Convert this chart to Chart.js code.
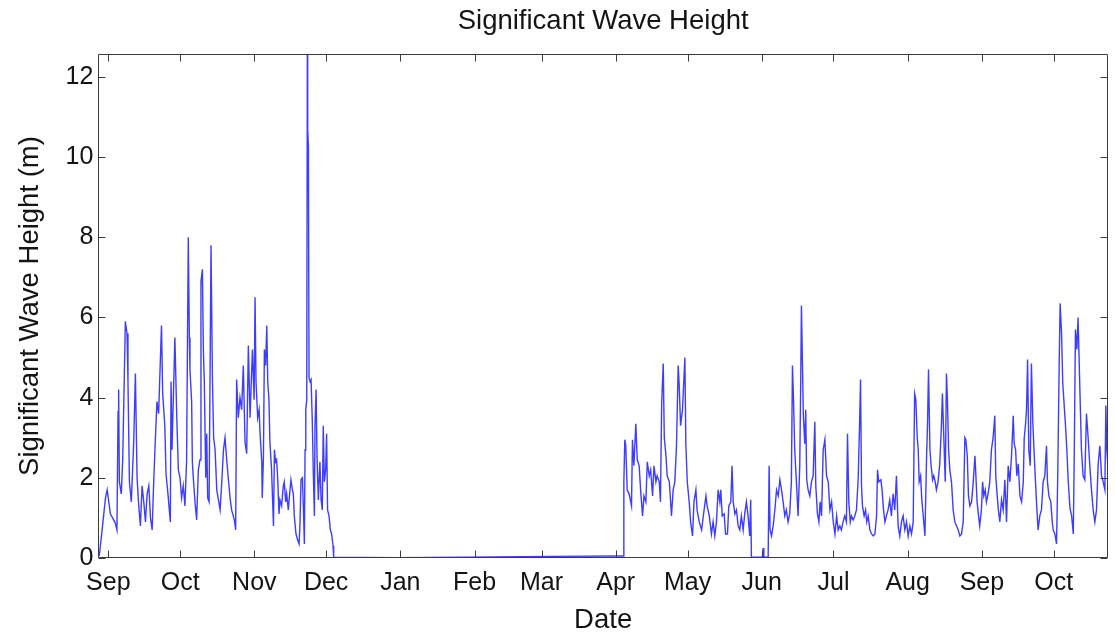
<!DOCTYPE html>
<html>
<head>
<meta charset="utf-8">
<title>Significant Wave Height</title>
<script src="https://cdn.jsdelivr.net/npm/chart.js@4.4.1/dist/chart.umd.min.js"></script>
<style>
  html, body { margin: 0; padding: 0; background: #fff; }
</style>
</head>
<body>
<canvas id="hsChart" width="1115" height="632"></canvas>
<script>
// x values are days counted from 1 September of the first year
const monthLabels = ['Sep', 'Oct', 'Nov', 'Dec', 'Jan', 'Feb', 'Mar', 'Apr', 'May', 'Jun', 'Jul', 'Aug', 'Sep', 'Oct'];
const monthStart = [0, 30, 61, 91, 122, 153, 181, 212, 242, 273, 303, 334, 365, 395];
const heightTicks = [0, 2, 4, 6, 8, 10, 12];

// [day, Hs in metres]
const autumnObs = [
    [-3.8, 0.05], [-2.6, 0.7], [-1.2, 1.5], [-0.5, 1.7], [0.85, 1.1], [2.9, 0.87], [3.6, 0.7],
    [4.05, 3.65], [4.3, 4.2], [4.6, 1.9], [5.4, 1.6], [6.0, 2.45], [7.1, 5.9], [7.8, 5.6],
    [8.2, 4.4], [8.8, 1.9], [9.6, 1.4], [10.6, 2.9], [11.3, 4.6], [12.0, 2.0], [12.7, 1.3],
    [13.4, 0.8], [14.1, 1.8], [14.8, 1.4], [15.5, 0.9], [16.2, 1.6], [16.9, 1.8], [17.6, 1.0],
    [18.3, 0.7], [18.95, 1.9], [19.6, 2.9], [20.3, 3.9], [21.0, 3.6], [22.2, 5.8], [22.7, 4.1],
    [23.6, 3.3], [24.1, 2.1], [24.9, 1.6], [25.9, 0.9], [26.2, 4.4], [26.6, 2.7], [27.8, 5.5],
    [28.6, 3.5], [29.25, 2.2], [29.95, 2.0], [30.6, 1.5], [31.3, 1.8], [32.0, 1.3], [32.7, 2.45],
    [33.4, 8.0], [33.85, 5.5], [34.1, 4.7], [34.8, 3.9], [35.1, 2.4], [35.5, 2.0], [36.2, 1.4],
    [36.9, 0.95], [37.6, 2.2], [38.3, 2.45], [38.7, 6.9], [39.3, 7.2], [39.7, 5.2], [40.1, 4.4],
    [40.7, 2.0], [41.1, 3.1], [41.5, 1.5], [42.1, 1.4], [42.9, 7.8], [43.5, 4.4], [44.0, 3.0],
    [44.6, 2.7], [45.3, 1.7], [46.0, 1.45], [46.7, 1.2], [47.4, 1.9], [48.1, 2.7], [48.75, 3.0],
    [49.45, 2.45], [50.1, 2.0], [50.85, 1.5], [51.5, 1.2], [52.65, 0.95], [53.2, 0.7], [53.6, 4.45],
    [54.3, 3.5], [55.0, 4.0], [55.7, 3.7], [56.4, 4.8], [57.1, 2.9], [57.8, 2.6], [58.5, 5.3],
    [59.2, 3.5], [60.2, 5.2], [60.9, 3.95], [61.3, 6.5], [61.7, 4.4], [62.4, 3.5], [63.0, 3.7],
    [63.4, 3.1], [64.1, 2.4], [64.3, 1.5], [64.8, 2.5], [65.2, 5.2], [65.7, 4.8], [66.2, 5.8],
    [66.6, 4.4], [67.1, 3.95], [67.5, 2.9], [68.2, 2.2], [69.0, 0.8], [69.4, 2.7], [69.9, 2.4],
    [70.3, 2.45], [70.75, 2.0], [71.3, 1.1], [71.7, 1.45], [72.4, 1.3], [73.1, 1.8], [73.5, 1.9],
    [74.1, 1.4], [74.5, 1.6], [75.2, 1.2], [75.9, 1.7], [76.3, 1.95], [76.9, 1.7], [77.3, 1.6],
    [77.7, 1.05], [78.4, 0.6], [79.1, 0.45], [79.7, 0.35], [80.1, 0.9], [80.5, 1.95], [81.1, 2.0],
    [81.6, 1.05], [81.9, 0.35], [82.2, 2.7], [82.5, 3.7], [82.9, 3.95], [83.15, 12.57], [83.3, 10.7],
    [83.6, 10.25], [83.85, 4.5], [84.3, 4.4], [84.7, 4.45], [85.2, 3.45], [85.65, 2.1], [86.1, 1.05],
    [86.35, 3.3], [86.8, 4.2], [87.2, 2.5], [87.75, 1.45], [88.4, 2.4], [88.9, 1.45], [89.4, 1.2],
    [89.8, 3.3], [90.25, 1.9], [90.8, 2.2], [91.2, 3.1], [91.6, 1.2], [92.2, 1.05], [92.75, 0.7],
    [93.3, 0.6], [93.9, 0.3]
];

// buoy out of the water over winter
const winterObs = [
    [94.15, 0.02], [120, 0.01], [150, 0.02], [185, 0.04], [214, 0.05], [215.1, 0.05]
];

const summerObs = [
    [215.4, 1.87], [215.8, 2.95], [216.2, 2.8], [216.8, 1.7], [217.6, 1.6], [218.6, 1.3], [219.0, 2.95],
    [219.6, 2.3], [220.4, 3.35], [221.0, 2.45], [221.8, 2.3], [222.4, 1.7], [223.2, 1.05], [223.8, 1.55],
    [224.6, 1.4], [225.2, 2.4], [226.0, 2.05], [226.6, 2.2], [227.4, 1.55], [228.0, 2.3], [228.8, 1.9],
    [229.3, 2.05], [230.2, 1.9], [230.7, 1.4], [231.2, 3.85], [231.85, 4.85], [232.3, 3.0], [233.0, 2.55],
    [233.5, 2.05], [234.4, 1.9], [235.3, 1.05], [236.0, 1.7], [236.7, 1.9], [237.4, 2.8], [238.1, 4.8],
    [238.5, 4.35], [239.1, 3.3], [239.9, 3.7], [240.9, 5.0], [241.3, 2.85], [241.9, 1.9], [242.7, 1.4],
    [243.3, 0.9], [244.1, 0.55], [244.7, 1.4], [245.5, 1.7], [246.0, 1.2], [246.9, 0.9], [247.9, 0.7],
    [248.6, 1.05], [249.7, 1.55], [250.2, 1.3], [251.1, 1.05], [252.0, 0.6], [252.7, 0.9], [253.4, 0.55],
    [254.1, 0.9], [254.8, 1.7], [255.5, 1.4], [255.9, 1.7], [256.5, 1.05], [257.3, 1.1], [257.9, 0.6],
    [258.7, 0.6], [259.25, 1.3], [260.1, 1.4], [260.6, 2.3], [261.1, 1.4], [261.8, 1.1], [262.45, 1.2],
    [263.15, 0.8], [263.85, 0.7], [264.5, 1.05], [265.25, 0.7], [265.9, 1.1], [266.6, 1.4], [267.3, 1.05],
    [268.0, 0.55], [268.4, 1.45], [268.7, 0.02], [273.3, 0.02], [273.6, 0.25], [273.9, 0.02], [275.7, 0.02],
    [276.1, 2.3], [276.5, 0.7], [277.1, 0.55], [277.8, 0.8], [278.5, 1.2], [279.2, 1.7], [279.9, 1.55],
    [280.6, 1.95], [281.3, 1.7], [281.95, 1.4], [282.65, 1.05], [283.3, 1.2], [284.0, 0.9], [284.7, 1.1],
    [285.4, 1.9], [285.85, 4.8], [286.3, 3.95], [286.8, 2.7], [287.5, 1.9], [288.2, 1.05], [288.9, 2.3],
    [289.3, 4.35], [289.6, 6.3], [290.0, 4.95], [290.4, 3.55], [291.0, 2.85], [291.4, 3.7], [291.8, 1.95],
    [292.4, 1.7], [293.1, 1.55], [293.8, 1.9], [294.5, 2.05], [295.2, 3.4], [295.6, 1.8], [296.3, 1.1],
    [296.9, 0.9], [297.4, 1.4], [298.0, 1.05], [298.7, 2.7], [299.4, 2.95], [300.1, 2.05], [300.8, 1.9],
    [301.5, 1.2], [302.2, 1.4], [302.9, 0.9], [303.6, 0.6], [304.3, 1.05], [304.95, 0.7], [305.65, 0.8],
    [306.3, 0.7], [307.0, 0.9], [307.7, 1.05], [308.4, 0.9], [308.85, 3.1], [309.4, 1.4], [310.0, 0.9],
    [310.5, 1.05], [311.2, 0.95], [311.9, 1.05], [312.6, 1.2], [313.3, 1.95], [313.9, 3.35], [314.3, 4.45],
    [314.7, 1.8], [315.1, 1.3], [315.8, 1.05], [316.4, 1.2], [316.9, 0.9], [317.5, 1.05], [318.2, 0.7],
    [318.9, 0.6], [319.6, 0.55], [320.3, 0.6], [321.0, 1.05], [321.4, 2.2], [321.9, 1.9], [322.8, 1.95],
    [323.3, 1.7], [323.9, 1.2], [324.5, 0.9], [325.1, 1.05], [325.8, 1.2], [326.5, 1.45], [327.2, 1.05],
    [327.9, 1.6], [328.6, 1.2], [329.3, 2.05], [330.0, 0.8], [330.7, 0.55], [331.4, 0.9], [332.1, 1.05],
    [332.8, 0.7], [333.5, 0.9], [334.2, 0.55], [334.9, 0.8], [335.6, 0.6], [336.3, 0.9], [336.9, 4.1],
    [337.4, 3.95], [338.0, 3.0], [338.4, 2.7], [338.8, 1.9], [339.4, 2.05], [339.9, 1.45], [340.5, 1.05],
    [341.2, 0.55], [341.9, 2.55], [342.3, 3.35], [342.7, 4.7], [343.3, 2.7], [343.8, 2.3], [344.4, 1.95],
    [344.9, 2.05], [345.5, 1.9], [346.0, 1.7], [346.7, 1.9], [347.4, 2.35], [348.1, 3.3], [348.5, 4.1],
    [349.1, 3.0], [349.7, 1.9], [350.2, 4.6], [350.6, 3.95], [351.1, 2.7], [351.6, 2.2], [352.3, 1.9],
    [353.0, 1.2], [353.7, 0.9], [354.4, 0.8], [355.1, 0.7], [355.8, 0.55], [356.5, 0.6], [357.2, 0.9],
    [357.9, 3.0], [358.3, 2.95], [358.9, 2.55], [359.4, 1.55], [360.0, 1.3], [360.7, 1.4], [361.4, 1.9],
    [362.1, 2.55], [362.5, 2.05], [363.0, 1.4], [363.6, 1.05], [364.1, 0.8], [364.8, 1.2], [365.3, 1.9],
    [365.8, 1.55], [366.4, 1.7], [366.9, 1.4], [367.6, 1.6], [368.3, 1.9], [369.0, 2.7], [369.7, 3.0],
    [370.4, 3.55], [370.8, 2.05], [371.4, 1.55], [371.9, 1.2], [372.5, 0.9], [373.2, 1.45], [373.9, 1.2],
    [374.6, 1.95], [375.3, 0.9], [376.0, 2.3], [376.7, 1.9], [377.4, 2.55], [378.1, 3.55], [378.5, 2.85],
    [379.1, 2.7], [379.6, 2.05], [380.2, 2.35], [380.9, 1.55], [381.6, 1.4], [382.3, 1.9], [382.7, 3.0],
    [383.2, 3.3], [383.65, 3.7], [384.1, 4.95], [384.6, 2.7], [385.2, 2.3], [385.7, 4.85], [386.3, 3.35],
    [386.9, 2.55], [387.4, 1.9], [388.0, 1.2], [388.5, 0.7], [389.2, 1.05], [389.9, 1.2], [390.6, 1.9],
    [391.3, 2.05], [392.0, 2.8], [392.4, 1.9], [393.0, 1.55], [393.8, 1.4], [394.4, 0.9], [394.8, 0.7],
    [395.5, 0.6], [396.2, 0.35], [396.6, 1.7], [396.9, 2.95], [397.3, 4.8], [397.7, 6.35], [398.3, 5.6],
    [398.8, 4.35], [399.4, 3.8], [399.9, 3.35], [400.5, 2.7], [401.1, 1.9], [401.8, 1.25], [402.5, 1.05],
    [403.2, 0.6], [403.6, 2.55], [404.1, 5.7], [404.7, 5.2], [405.2, 6.0], [405.7, 4.8], [406.1, 3.85],
    [406.6, 2.7], [407.3, 2.05], [408.0, 1.95], [408.7, 3.6], [409.4, 3.0], [410.1, 2.3], [410.8, 1.7],
    [411.5, 1.2], [412.2, 0.9], [412.9, 1.2], [413.6, 2.35], [414.3, 2.8], [415.0, 2.05], [415.7, 1.9],
    [416.4, 1.7], [416.8, 3.8], [417.2, 2.7], [417.6, 2.35]
];

const series = autumnObs.concat(winterObs, summerObs).map(([d, h]) => ({ x: d, y: h }));

Chart.defaults.font.family = "'Liberation Sans', Arial, sans-serif";
Chart.defaults.color = '#141414';

// axes box with inward tick marks on all four sides
const boxTicks = {
    id: 'boxTicks',
    afterDatasetsDraw(chart) {
        const { ctx, chartArea: a, scales: { x, y } } = chart;
        const left = Math.round(a.left) + 0.5, right = Math.round(a.right) - 0.5;
        const top = Math.round(a.top) + 0.5, bottom = Math.round(a.bottom) - 0.5;
        const len = 7;
        ctx.save();
        ctx.strokeStyle = '#3c3c3c';
        ctx.lineWidth = 1;
        ctx.beginPath();
        x.ticks.forEach(t => {
            const px = Math.round(x.getPixelForValue(t.value)) + 0.5;
            ctx.moveTo(px, bottom); ctx.lineTo(px, bottom - len);
            ctx.moveTo(px, top); ctx.lineTo(px, top + len);
        });
        y.ticks.forEach(t => {
            const py = Math.round(y.getPixelForValue(t.value)) + 0.5;
            ctx.moveTo(left, py); ctx.lineTo(left + len, py);
            ctx.moveTo(right, py); ctx.lineTo(right - len, py);
        });
        ctx.rect(left, top, right - left, bottom - top);
        ctx.stroke();
        ctx.restore();
    }
};

const ctx = document.getElementById('hsChart').getContext('2d');
const hsChart = new Chart(ctx, {
    type: 'line',
    data: {
        datasets: [{
            label: 'Hs',
            data: series,
            borderColor: '#3d3dff',
            borderWidth: 1.4,
            pointRadius: 0,
            tension: 0,
            fill: false
        }]
    },
    options: {
        responsive: false,
        animation: false,
        layout: {
            padding: { left: 0, right: 7, top: 0, bottom: 0 }
        },
        plugins: {
            legend: { display: false },
            tooltip: { enabled: false },
            title: {
                display: true,
                text: 'Significant Wave Height',
                fullSize: false,
                color: '#141414',
                font: { size: 27.5, weight: 'normal' },
                padding: { top: 4.5, bottom: 16.5 }
            }
        },
        scales: {
            x: {
                type: 'linear',
                min: -4.2,
                max: 417.7,
                afterBuildTicks: scale => {
                    scale.ticks = monthStart.map(v => ({ value: v }));
                },
                afterFit: scale => { scale.height = 74; },
                ticks: {
                    autoSkip: false,
                    maxRotation: 0,
                    padding: 10,
                    font: { size: 25 },
                    callback: (value, i) => monthLabels[i]
                },
                grid: { display: false, drawTicks: false },
                border: { display: false },
                title: {
                    display: true,
                    text: 'Date',
                    font: { size: 27.5, lineHeight: 0.9 },
                    padding: { top: 0, bottom: -1 }
                }
            },
            y: {
                min: 0,
                max: 12.57,
                afterBuildTicks: scale => {
                    scale.ticks = heightTicks.map(v => ({ value: v }));
                },
                afterFit: scale => { scale.width = 98.3; },
                ticks: {
                    padding: 5,
                    font: { size: 25 }
                },
                grid: { display: false, drawTicks: false },
                border: { display: false },
                title: {
                    display: true,
                    text: 'Significant Wave Height (m)',
                    font: { size: 27.5 },
                    padding: { top: 13.5, bottom: 0 }
                }
            }
        }
    },
    plugins: [boxTicks]
});
</script>
</body>
</html>
